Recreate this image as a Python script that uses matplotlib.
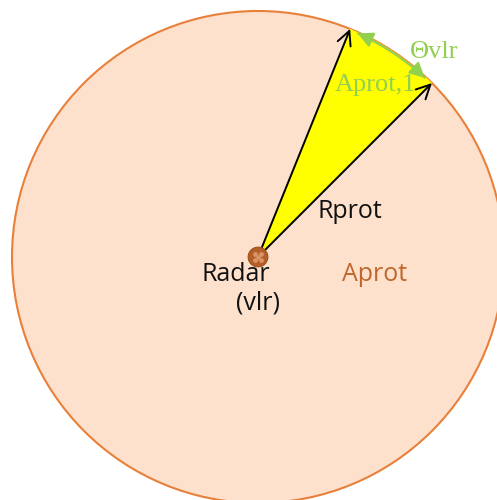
import numpy as np
import matplotlib
matplotlib.use('Agg')
import matplotlib.pyplot as plt
from matplotlib.patches import Circle, Wedge, FancyArrowPatch
from matplotlib.path import Path

# diagram geometry (circle radius = 1, radar at origin)
radius = 1.0
beam_angles = [45.0, 68.0]          # degrees, edges of the protected sector
theta_arc = [47.0, 66.0]            # green angle marker
labels = ['Rprot', 'Radar', '(vlr)', 'Aprot']
label_pos = [(0.374, 0.183), (-0.089, -0.073), (0.0, -0.187), (0.472, -0.073)]
green_labels = ['\u0398vlr', 'Aprot,1']
green_pos = [(0.715, 0.833), (0.476, 0.70)]

fill_col = '#fde1cc'
edge_col = '#e8803a'
sector_col = '#ffff00'
green = '#92d050'
brown = '#c0662a'

fig = plt.figure(figsize=(4.97, 5.00), dpi=100)
ax = fig.add_axes([0, 0, 1, 1])
ax.set_xlim(-258 / 246, 239 / 246)
ax.set_ylim(-243 / 246, 257 / 246)
ax.set_aspect('equal')
ax.axis('off')

ax.add_patch(Circle((0, 0), radius, facecolor=fill_col, edgecolor=edge_col, lw=1.5))
ax.add_patch(Wedge((0, 0), radius, beam_angles[0], beam_angles[1],
                   facecolor=sector_col, edgecolor='none'))

# radius arrows
for a in beam_angles:
    t = np.radians(a)
    ax.annotate('', xy=(radius * np.cos(t), radius * np.sin(t)), xytext=(0, 0),
                arrowprops=dict(arrowstyle='->,head_length=0.5,head_width=0.25',
                                color='black', lw=1.4,
                                mutation_scale=20, shrinkA=0, shrinkB=0))

# green angle arc, arrowheads at both ends
t = np.radians(np.linspace(theta_arc[1], theta_arc[0], 40))
arc = Path(np.column_stack([0.995 * np.cos(t), 0.995 * np.sin(t)]))
for p in (arc, Path(arc.vertices[::-1])):
    ax.add_patch(FancyArrowPatch(path=p, arrowstyle='-|>,head_length=0.6,head_width=0.3',
                                 color=green, lw=1.3, mutation_scale=16))

# radar dot
ax.add_patch(Circle((0, 0), 0.04, facecolor='#b45f28', edgecolor='#a0521f', lw=0.8, zorder=5))
ax.plot([-0.013, 0.013, 0.0, -0.013, 0.013], [0.011, 0.011, 0.0, -0.011, -0.011],
        'o', ms=2.4, color='#d9956a', zorder=6)

font = 'Open Sans'
colors = ['#111111', '#111111', '#111111', brown]
for s, p, c in zip(labels, label_pos, colors):
    ax.text(*p, s, fontsize=18, family=font, ha='center', va='center', color=c)
for s, p in zip(green_labels, green_pos):
    ax.text(*p, s, fontsize=19, family='Liberation Serif', ha='center', va='center',
            color=green)

fig.savefig('out.png', dpi=100)
